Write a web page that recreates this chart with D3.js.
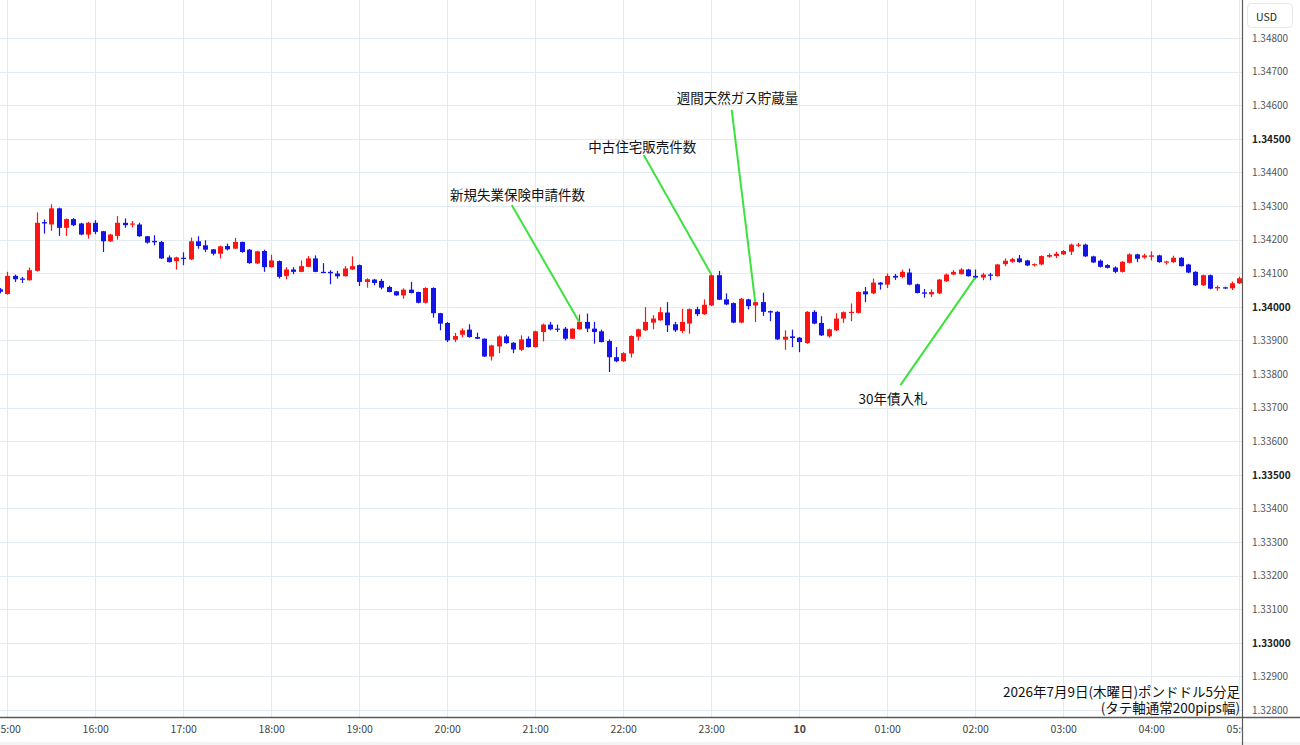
<!DOCTYPE html>
<html>
<head>
<meta charset="utf-8">
<script src="https://cdn.jsdelivr.net/npm/d3@7"></script>
<style>
  body { margin: 0; background: #fff; }
  svg { display: block; }
  text { font-family: "Noto Sans CJK JP", "Noto Sans", sans-serif; }
</style>
</head>
<body>
<div id="chart"></div>
<script>
// 5 minute bars, GBP/USD, first bar 14:55
var startTime = new Date(2026, 6, 9, 14, 55)

var opens = [1.34052, 1.34038, 1.34092, 1.34084, 1.34079, 1.34107, 1.34252, 1.34245, 1.34293, 1.34235,
  1.34261, 1.34248, 1.34215, 1.34250, 1.34225, 1.34195, 1.34211, 1.34250, 1.34245, 1.34245,
  1.34210, 1.34196, 1.34193, 1.34147, 1.34136, 1.34146, 1.34141, 1.34195, 1.34183, 1.34171,
  1.34158, 1.34181, 1.34173, 1.34193, 1.34170, 1.34129, 1.34166, 1.34118, 1.34136, 1.34092,
  1.34111, 1.34104, 1.34119, 1.34144, 1.34104, 1.34104, 1.34099, 1.34091, 1.34111, 1.34124,
  1.34074, 1.34081, 1.34077, 1.34059, 1.34046, 1.34034, 1.34051, 1.34044, 1.34012, 1.34056,
  1.33981, 1.33952, 1.33902, 1.33917, 1.33932, 1.33910, 1.33905, 1.33852, 1.33882, 1.33912,
  1.33893, 1.33872, 1.33905, 1.33880, 1.33925, 1.33947, 1.33935, 1.33935, 1.33905, 1.33933,
  1.33955, 1.33935, 1.33927, 1.33898, 1.33850, 1.33838, 1.33861, 1.33911, 1.33930, 1.33953,
  1.33960, 1.33983, 1.33948, 1.33928, 1.33950, 1.33993, 1.33978, 1.34004, 1.34094, 1.34022,
  1.34011, 1.33953, 1.34022, 1.34004, 1.34014, 1.33987, 1.33985, 1.33902, 1.33912, 1.33908,
  1.33892, 1.33985, 1.33952, 1.33912, 1.33930, 1.33965, 1.33983, 1.33982, 1.34046, 1.34040,
  1.34072, 1.34066, 1.34092, 1.34089, 1.34102, 1.34067, 1.34043, 1.34037, 1.34040, 1.34076,
  1.34096, 1.34097, 1.34111, 1.34092, 1.34087, 1.34096, 1.34091, 1.34127, 1.34134, 1.34144,
  1.34138, 1.34124, 1.34126, 1.34149, 1.34151, 1.34156, 1.34164, 1.34183, 1.34185, 1.34150,
  1.34137, 1.34124, 1.34117, 1.34104, 1.34131, 1.34156, 1.34147, 1.34149, 1.34153, 1.34132,
  1.34133, 1.34146, 1.34126, 1.34104, 1.34064, 1.34094, 1.34055, 1.34058, 1.34055, 1.34070]

var highs = [1.34056, 1.34104, 1.34096, 1.34089, 1.34117, 1.34281, 1.34260, 1.34305, 1.34295, 1.34263,
  1.34264, 1.34250, 1.34253, 1.34258, 1.34226, 1.34217, 1.34270, 1.34263, 1.34255, 1.34250,
  1.34211, 1.34213, 1.34196, 1.34153, 1.34149, 1.34162, 1.34206, 1.34210, 1.34198, 1.34172,
  1.34182, 1.34188, 1.34205, 1.34194, 1.34172, 1.34167, 1.34170, 1.34155, 1.34138, 1.34118,
  1.34118, 1.34138, 1.34151, 1.34153, 1.34130, 1.34109, 1.34107, 1.34121, 1.34150, 1.34126,
  1.34085, 1.34083, 1.34083, 1.34063, 1.34047, 1.34055, 1.34074, 1.34045, 1.34058, 1.34058,
  1.33982, 1.33955, 1.33922, 1.33936, 1.33948, 1.33923, 1.33906, 1.33887, 1.33915, 1.33917,
  1.33895, 1.33915, 1.33912, 1.33929, 1.33950, 1.33955, 1.33947, 1.33940, 1.33936, 1.33977,
  1.33980, 1.33955, 1.33932, 1.33903, 1.33880, 1.33865, 1.33915, 1.33935, 1.33999, 1.33975,
  1.33999, 1.34014, 1.33955, 1.33994, 1.33995, 1.34000, 1.34022, 1.34097, 1.34107, 1.34040,
  1.34013, 1.34026, 1.34024, 1.34016, 1.34042, 1.33989, 1.33987, 1.33930, 1.33932, 1.33910,
  1.33987, 1.33990, 1.33972, 1.33935, 1.33981, 1.33986, 1.34010, 1.34046, 1.34059, 1.34084,
  1.34074, 1.34099, 1.34098, 1.34110, 1.34114, 1.34069, 1.34053, 1.34052, 1.34083, 1.34099,
  1.34109, 1.34115, 1.34113, 1.34111, 1.34101, 1.34101, 1.34128, 1.34144, 1.34146, 1.34154,
  1.34140, 1.34129, 1.34153, 1.34159, 1.34164, 1.34169, 1.34188, 1.34190, 1.34188, 1.34152,
  1.34141, 1.34127, 1.34120, 1.34136, 1.34159, 1.34158, 1.34158, 1.34165, 1.34155, 1.34137,
  1.34152, 1.34148, 1.34128, 1.34106, 1.34096, 1.34096, 1.34063, 1.34060, 1.34075, 1.34090]

var lows = [1.34040, 1.34036, 1.34074, 1.34071, 1.34078, 1.34105, 1.34218, 1.34226, 1.34211, 1.34211,
  1.34240, 1.34213, 1.34203, 1.34216, 1.34163, 1.34193, 1.34200, 1.34235, 1.34236, 1.34208,
  1.34188, 1.34183, 1.34142, 1.34132, 1.34111, 1.34124, 1.34139, 1.34173, 1.34163, 1.34153,
  1.34144, 1.34168, 1.34172, 1.34161, 1.34128, 1.34127, 1.34104, 1.34117, 1.34084, 1.34082,
  1.34097, 1.34103, 1.34118, 1.34103, 1.34100, 1.34067, 1.34084, 1.34090, 1.34110, 1.34062,
  1.34057, 1.34064, 1.34052, 1.34043, 1.34033, 1.34024, 1.34040, 1.34010, 1.34010, 1.33968,
  1.33930, 1.33895, 1.33895, 1.33909, 1.33908, 1.33904, 1.33851, 1.33840, 1.33862, 1.33890,
  1.33862, 1.33868, 1.33879, 1.33879, 1.33897, 1.33930, 1.33925, 1.33900, 1.33904, 1.33932,
  1.33925, 1.33890, 1.33894, 1.33806, 1.33835, 1.33836, 1.33849, 1.33900, 1.33928, 1.33933,
  1.33958, 1.33925, 1.33925, 1.33922, 1.33920, 1.33972, 1.33976, 1.34002, 1.34020, 1.34005,
  1.33951, 1.33951, 1.33992, 1.33955, 1.33973, 1.33957, 1.33901, 1.33872, 1.33880, 1.33865,
  1.33890, 1.33948, 1.33913, 1.33908, 1.33928, 1.33952, 1.33957, 1.33980, 1.34014, 1.34038,
  1.34051, 1.34056, 1.34080, 1.34085, 1.34064, 1.34040, 1.34027, 1.34029, 1.34038, 1.34074,
  1.34094, 1.34096, 1.34090, 1.34082, 1.34079, 1.34079, 1.34090, 1.34121, 1.34131, 1.34131,
  1.34121, 1.34120, 1.34124, 1.34146, 1.34145, 1.34154, 1.34154, 1.34178, 1.34148, 1.34130,
  1.34117, 1.34114, 1.34100, 1.34102, 1.34129, 1.34133, 1.34143, 1.34138, 1.34131, 1.34126,
  1.34130, 1.34120, 1.34100, 1.34062, 1.34062, 1.34052, 1.34048, 1.34053, 1.34050, 1.34068]

var closes = [1.34045, 1.34092, 1.34082, 1.34081, 1.34109, 1.34250, 1.34248, 1.34293, 1.34235, 1.34261,
  1.34243, 1.34215, 1.34250, 1.34223, 1.34195, 1.34215, 1.34250, 1.34243, 1.34248, 1.34210,
  1.34191, 1.34192, 1.34144, 1.34133, 1.34147, 1.34143, 1.34195, 1.34181, 1.34170, 1.34158,
  1.34180, 1.34171, 1.34193, 1.34163, 1.34130, 1.34165, 1.34118, 1.34138, 1.34089, 1.34111,
  1.34104, 1.34121, 1.34144, 1.34104, 1.34101, 1.34100, 1.34091, 1.34114, 1.34121, 1.34074,
  1.34082, 1.34071, 1.34057, 1.34044, 1.34034, 1.34051, 1.34041, 1.34012, 1.34056, 1.33981,
  1.33950, 1.33900, 1.33913, 1.33930, 1.33910, 1.33905, 1.33852, 1.33885, 1.33912, 1.33892,
  1.33873, 1.33903, 1.33880, 1.33927, 1.33947, 1.33933, 1.33932, 1.33905, 1.33935, 1.33955,
  1.33935, 1.33925, 1.33895, 1.33850, 1.33838, 1.33862, 1.33913, 1.33933, 1.33955, 1.33965,
  1.33984, 1.33945, 1.33930, 1.33955, 1.33993, 1.33978, 1.34006, 1.34094, 1.34021, 1.34007,
  1.33953, 1.34024, 1.34002, 1.34014, 1.33985, 1.33983, 1.33903, 1.33911, 1.33907, 1.33895,
  1.33985, 1.33950, 1.33915, 1.33933, 1.33965, 1.33984, 1.33985, 1.34044, 1.34037, 1.34072,
  1.34066, 1.34092, 1.34087, 1.34104, 1.34066, 1.34041, 1.34039, 1.34044, 1.34081, 1.34096,
  1.34104, 1.34111, 1.34091, 1.34087, 1.34096, 1.34093, 1.34126, 1.34137, 1.34142, 1.34133,
  1.34123, 1.34127, 1.34151, 1.34154, 1.34158, 1.34166, 1.34185, 1.34185, 1.34150, 1.34132,
  1.34119, 1.34116, 1.34104, 1.34134, 1.34156, 1.34143, 1.34153, 1.34153, 1.34133, 1.34135,
  1.34146, 1.34121, 1.34102, 1.34064, 1.34094, 1.34054, 1.34059, 1.34055, 1.34070, 1.34085]

var priceTicks = d3.range(1.328, 1.34805, 0.001)

// event notes: label position and where the leader line starts, in time/price
var notes = [
  { text: "新規失業保険申請件数", labelTime: "20:48", labelPrice: 1.34336, lineTime: "20:44", linePrice: 1.34303, bar: "21:30", at: "close" },
  { text: "中古住宅販売件数", labelTime: "22:13", labelPrice: 1.34480, lineTime: "22:14", linePrice: 1.34452, bar: "23:00", at: "high" },
  { text: "週間天然ガス貯蔵量", labelTime: "23:18", labelPrice: 1.34623, lineTime: "23:14", linePrice: 1.34586, bar: "23:30", at: "close" },
  { text: "30年債入札", labelTime: "01:04", labelPrice: 1.33730, lineTime: "01:09", linePrice: 1.33767, bar: "02:00", at: "close" }
]

var captionLines = ["2026年7月9日(木曜日)ポンドドル5分足", "(タテ軸通常200pips幅)"]

width = 1300
height = 745
plotRight = 1242
plotBottom = 717

var svg = d3.select("#chart").append("svg")
  .attr("width", width).attr("height", height)

var times = opens.map(function (d, i) { return d3.timeMinute.offset(startTime, i * 5) })
var candles = opens.map(function (d, i) {
  return { t: times[i], open: d, high: highs[i], low: lows[i], close: closes[i] }
})

var x = d3.scaleTime()
  .domain([new Date(2026, 6, 9, 15, 0), new Date(2026, 6, 10, 5, 0)])
  .range([7.2, 7.2 + 88 * 14])
var y = d3.scaleLinear().domain([1.328, 1.348]).range([710, 38])

// time of day string -> date on the chart
function dayTime(s) {
  var p = s.split(":").map(Number)
  var day = p[0] < 12 ? 10 : 9
  return new Date(2026, 6, day, p[0], p[1])
}

var defs = svg.append("defs")
defs.append("clipPath").attr("id", "plotClip")
  .append("rect").attr("x", 0).attr("y", 0).attr("width", plotRight).attr("height", plotBottom)
// the axis group is translated, so this rect is in its own coordinates
defs.append("clipPath").attr("id", "axisClip")
  .append("rect").attr("x", 0).attr("y", 0).attr("width", plotRight).attr("height", height - plotBottom)

var hourTicks = d3.timeHour.range(new Date(2026, 6, 9, 15, 0), new Date(2026, 6, 10, 5, 1))

// grid
var grid = svg.append("g").attr("clip-path", "url(#plotClip)")
grid.selectAll(".hgrid").data(priceTicks).enter().append("line")
  .attr("x1", 0).attr("x2", plotRight)
  .attr("y1", function (d) { return Math.round(y(d)) + 0.5 })
  .attr("y2", function (d) { return Math.round(y(d)) + 0.5 })
  .attr("stroke", "#e4eaf1").attr("stroke-width", 1)
grid.selectAll(".vgrid").data(hourTicks).enter().append("line")
  .attr("y1", 0).attr("y2", plotBottom)
  .attr("x1", function (d) { return Math.round(x(d)) + 0.5 })
  .attr("x2", function (d) { return Math.round(x(d)) + 0.5 })
  .attr("stroke", "#e4eaf1").attr("stroke-width", 1)

// candles
var upColor = "#ff1414"
var downColor = "#1414e6"
var g = svg.append("g").attr("clip-path", "url(#plotClip)")
var bars = g.selectAll(".candle").data(candles).enter().append("g")
bars.append("line")
  .attr("x1", function (d) { return Math.round(x(d.t)) + 0.5 })
  .attr("x2", function (d) { return Math.round(x(d.t)) + 0.5 })
  .attr("y1", function (d) { return y(d.high) })
  .attr("y2", function (d) { return y(d.low) })
  .attr("stroke", function (d) { return d.close >= d.open ? upColor : downColor })
  .attr("stroke-width", 1.2)
bars.append("rect")
  .attr("x", function (d) { return Math.round(x(d.t)) - 2 })
  .attr("width", 5)
  .attr("y", function (d) { return y(Math.max(d.open, d.close)) })
  .attr("height", function (d) { return Math.max(1.2, Math.abs(y(d.open) - y(d.close))) })
  .attr("fill", function (d) { return d.close >= d.open ? upColor : downColor })

// annotations
var ann = svg.append("g")
ann.selectAll(".lead").data(notes).enter().append("line")
  .attr("x1", function (d) { return x(dayTime(d.lineTime)) })
  .attr("y1", function (d) { return y(d.linePrice) })
  .attr("x2", function (d) { return x(dayTime(d.bar)) })
  .attr("y2", function (d) {
    var c = candles.find(function (k) { return +k.t == +dayTime(d.bar) })
    return y(c[d.at])
  })
  .attr("stroke", "#3de23d").attr("stroke-width", 2)
ann.selectAll(".note").data(notes).enter().append("text")
  .attr("x", function (d) { return x(dayTime(d.labelTime)) })
  .attr("y", function (d) { return y(d.labelPrice) })
  .attr("text-anchor", "middle").attr("dominant-baseline", "central")
  .attr("font-size", "13.5px").attr("fill", "#111")
  .text(function (d) { return d.text })

// caption bottom right
svg.selectAll(".caption").data(captionLines).enter().append("text")
  .attr("x", plotRight - 2)
  .attr("y", function (d, i) { return 691 + i * 16 })
  .attr("text-anchor", "end").attr("dominant-baseline", "central")
  .attr("font-size", "13.5px").attr("fill", "#111")
  .text(function (d) { return d })

// axes frame
svg.append("rect").attr("x", 0).attr("y", 742).attr("width", width).attr("height", 3).attr("fill", "#f4f4f4")
svg.append("line").attr("x1", 0).attr("x2", width).attr("y1", plotBottom + 0.5).attr("y2", plotBottom + 0.5)
  .attr("stroke", "#5a5a5a").attr("stroke-width", 1.5)
svg.append("line").attr("x1", plotRight + 0.5).attr("x2", plotRight + 0.5).attr("y1", 0).attr("y2", height)
  .attr("stroke", "#5a5a5a").attr("stroke-width", 1.2)

// price axis
var yAxis = svg.append("g")
  .attr("transform", "translate(" + (plotRight + 4) + ",0)")
  .call(d3.axisRight(y).tickValues(priceTicks).tickSize(0).tickPadding(6).tickFormat(d3.format(".5f")))
yAxis.select(".domain").remove()
yAxis.selectAll("text")
  .attr("font-family", "'Noto Sans', sans-serif")
  .attr("font-size", "10px")
  .attr("fill", function (d) { return Math.round(d * 1000) % 5 == 0 ? "#222" : "#555" })
  .attr("font-weight", function (d) { return Math.round(d * 1000) % 5 == 0 ? "bold" : "normal" })

// currency box
svg.append("rect").attr("x", 1247.5).attr("y", 3.5).attr("width", 45).attr("height", 24).attr("rx", 4)
  .attr("fill", "#fff").attr("stroke", "#e6e6e6")
svg.append("text").attr("x", 1256).attr("y", 16).attr("dominant-baseline", "central")
  .attr("font-family", "'Noto Sans', sans-serif").attr("font-size", "10.5px").attr("fill", "#222")
  .text("USD")

// time axis
var xAxis = svg.append("g")
  .attr("transform", "translate(0," + plotBottom + ")")
  .attr("clip-path", "url(#axisClip)")
  .call(d3.axisBottom(x).tickValues(hourTicks).tickSize(0).tickPadding(9)
    .tickFormat(function (d) { return d.getHours() == 0 ? d3.timeFormat("%-d")(d) : d3.timeFormat("%H:%M")(d) }))
xAxis.select(".domain").remove()
xAxis.selectAll("text")
  .attr("font-family", "'Noto Sans', sans-serif")
  .attr("font-size", "10.5px")
  .attr("fill", "#444")
  .attr("font-weight", function (d) { return d.getHours() == 0 ? "bold" : "normal" })
</script>
</body>
</html>
